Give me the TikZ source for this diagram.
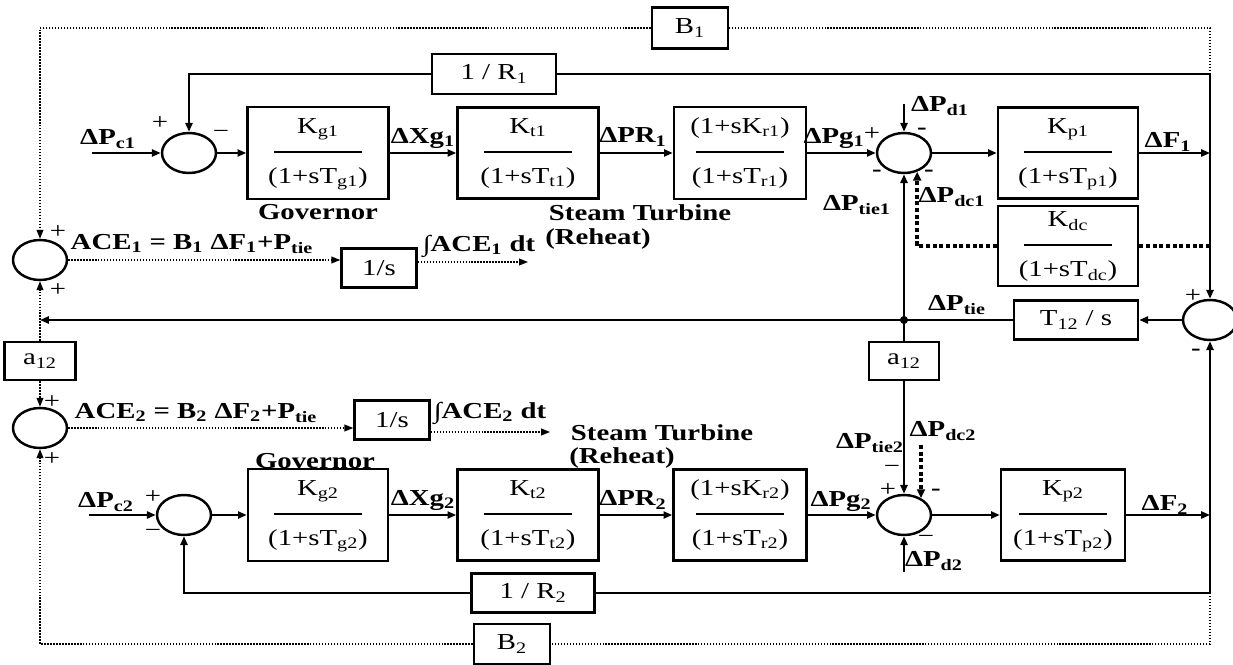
\documentclass[tikz,border=0pt]{standalone}
\usepackage{fontspec}
\setmainfont{Liberation Serif}[FakeStretch=1.26]
\usetikzlibrary{arrows.meta, shapes.geometric}
\newcommand{\blkfrac}[2]{\begin{tabular}{@{}c@{}}#1\\[-1pt]\rule[3pt]{1.76cm}{1.1pt}\\[-0.5pt]#2\end{tabular}}

\begin{document}
\begin{tikzpicture}[x=0.02cm, y=-0.02cm, font=\fontsize{13}{15}\selectfont,
    blockbox/.style={draw, line width=1.4pt, inner sep=0pt},
    sumnode/.style={draw, ellipse, line width=1.4pt, minimum width=1.08cm, minimum height=0.8cm, inner sep=0pt},
    sig/.style={line width=1.2pt},
    sigarrow/.style={sig, -{Triangle[length=5pt,width=4pt]}},
    dotline/.style={line width=0.8pt, dash pattern=on 0.8pt off 0.9pt},
    dotarrow/.style={dotline, -{Triangle[length=5pt,width=3.8pt]}},
    dcline/.style={line width=2.3pt, dash pattern=on 2.3pt off 1.5pt},
    dcarrow/.style={dcline, -{Triangle[length=5pt,width=4.5pt]}},
    lbl/.style={font=\fontsize{13}{15}\selectfont\bfseries, inner sep=0pt},
    sgn/.style={font=\fontsize{13}{13}\selectfont, inner sep=0pt}]
  \useasboundingbox (0,0) rectangle (1233,665);

  % area 1
  \node[sumnode] (sum1) at (189,153) {};
  \node[blockbox, minimum width=2.82cm, minimum height=1.84cm] (gov1) at (318,153) {\blkfrac{K\textsubscript{g1}}{(1+sT\textsubscript{g1})}};
  \node[blockbox, minimum width=2.82cm, minimum height=1.82cm] (turb1) at (528,153) {\blkfrac{K\textsubscript{t1}}{(1+sT\textsubscript{t1})}};
  \node[blockbox, minimum width=2.64cm, minimum height=1.84cm] (reh1) at (740,153) {\blkfrac{(1+sK\textsubscript{r1})}{(1+sT\textsubscript{r1})}};
  \node[sumnode] (sum2) at (904,153) {};
  \node[blockbox, minimum width=2.8cm, minimum height=1.82cm] (kp1) at (1068,153) {\blkfrac{K\textsubscript{p1}}{(1+sT\textsubscript{p1})}};
  \node[blockbox, minimum width=2.8cm, minimum height=1.6cm] (kdc) at (1068,246) {\blkfrac{K\textsubscript{dc}}{(1+sT\textsubscript{dc})}};
  \node[blockbox, minimum width=2.48cm, minimum height=0.8cm] (r1) at (494,74) {1 / R\textsubscript{1}};
  \node[blockbox, minimum width=1.52cm, minimum height=0.82cm] (b1) at (690,28) {B\textsubscript{1}};

  % tie-line
  \node[sumnode] (sum3) at (1210,320) {};
  \node[blockbox, minimum width=2.48cm, minimum height=0.78cm] (t12) at (1076,320) {T\textsubscript{12} / s};
  \node[blockbox, minimum width=1.4cm, minimum height=0.76cm] (a12c) at (904,361) {a\textsubscript{12}};

  % ACE
  \node[sumnode] (ace1) at (40,260) {};
  \node[blockbox, minimum width=1.42cm, minimum height=0.76cm] (a12l) at (40,361) {a\textsubscript{12}};
  \node[sumnode] (ace2) at (40,428) {};
  \node[blockbox, minimum width=1.5cm, minimum height=0.78cm] (integ1) at (379,268) {1/s};
  \node[blockbox, minimum width=1.5cm, minimum height=0.78cm] (integ2) at (392,420) {1/s};

  % area 2
  \node[sumnode] (sum5) at (184,515) {};
  \node[blockbox, minimum width=2.8cm, minimum height=1.84cm] (gov2) at (318,515) {\blkfrac{K\textsubscript{g2}}{(1+sT\textsubscript{g2})}};
  \node[blockbox, minimum width=2.82cm, minimum height=1.82cm] (turb2) at (528,515) {\blkfrac{K\textsubscript{t2}}{(1+sT\textsubscript{t2})}};
  \node[blockbox, minimum width=2.66cm, minimum height=1.82cm] (reh2) at (740,515) {\blkfrac{(1+sK\textsubscript{r2})}{(1+sT\textsubscript{r2})}};
  \node[sumnode] (sum6) at (904,515) {};
  \node[blockbox, minimum width=2.48cm, minimum height=1.82cm] (kp2) at (1063,515) {\blkfrac{K\textsubscript{p2}}{(1+sT\textsubscript{p2})}};
  \node[blockbox, minimum width=2.46cm, minimum height=0.78cm] (r2) at (533,593) {1 / R\textsubscript{2}};
  \node[blockbox, minimum width=1.52cm, minimum height=0.8cm] (b2) at (512,644) {B\textsubscript{2}};

  \coordinate (rtop) at (1210,74);
  \coordinate (rbot) at (1210,593);
  \coordinate (pc1) at (92,153);
  \coordinate (pc2) at (89,515);
  \coordinate (f1) at (1210,153);
  \coordinate (f2) at (1210,515);
  \coordinate (pd1) at (904,104);
  \coordinate (pd2) at (904,572);
  \coordinate (jn) at (904,320);
  \coordinate (lt) at (40,320);
  \coordinate (dc2top) at (921,445);
  \coordinate (int1end) at (528,262);
  \coordinate (int2end) at (550,432);

  % bias loops
  \draw[dotline] (rtop) |- (b1.east);
  \draw[dotarrow] (b1.west) -| (ace1.north);
  \draw[dotline] (rbot) |- (b2.east);
  \draw[dotarrow] (b2.west) -| (ace2.south);

  % droop loops
  \draw[sig] (rtop) -- (r1.east);
  \draw[sigarrow] (r1.west) -| (sum1.north);
  \draw[sig] (rbot) -- (r2.east);
  \draw[sigarrow] (r2.west) -| (sum5.south);
  \draw[sigarrow] (rtop) -- (sum3.north);
  \draw[sigarrow] (rbot) -- (sum3.south);

  % forward paths
  \draw[sigarrow] (pc1) -- (sum1.west);
  \draw[sigarrow] (sum1) -- (gov1);
  \draw[sigarrow] (gov1) -- (turb1);
  \draw[sigarrow] (turb1) -- (reh1);
  \draw[sigarrow] (reh1) -- (sum2);
  \draw[sigarrow] (sum2) -- (kp1);
  \draw[sigarrow] (kp1) -- (f1);
  \draw[sigarrow] (pd1) -- (sum2.north);
  \draw[sigarrow] (pc2) -- (sum5.west);
  \draw[sigarrow] (sum5) -- (gov2);
  \draw[sigarrow] (gov2) -- (turb2);
  \draw[sigarrow] (turb2) -- (reh2);
  \draw[sigarrow] (reh2) -- (sum6);
  \draw[sigarrow] (sum6) -- (kp2);
  \draw[sigarrow] (kp2) -- (f2);
  \draw[sigarrow] (pd2) -- (sum6.south);

  % tie-line power
  \draw[sigarrow] (sum3) -- (t12);
  \draw[sig] (t12) -- (jn);
  \draw[sigarrow] (jn) -- (lt);
  \draw[sigarrow] (jn) -- (sum2.south);
  \draw[sig] (jn) -- (a12c);
  \draw[sigarrow] (a12c) -- (sum6);
  \fill (jn) circle (2.3pt);

  % dc link
  \draw[dcline] (kdc.east) -- (kdc.east -| rtop);
  \draw[dcarrow] (kdc.west) -| (sum2.-55);
  \draw[dcarrow] (dc2top) -- (dc2top |- sum6.45);

  % area control error
  \draw[dotarrow] (a12l) -- (ace1);
  \draw[dotarrow] (a12l) -- (ace2);
  \draw[dotarrow] (ace1.east) -- (ace1.east -| integ1.west);
  \draw[dotarrow] (integ1.east |- int1end) -- (int1end);
  \draw[dotarrow] (ace2.east) -- (ace2.east -| integ2.west);
  \draw[dotarrow] (integ2.east |- int2end) -- (int2end);

  % labels
  \node[lbl] (lpc1) at (108,139) {ΔP\textsubscript{c1}};
  \node[sgn] (s1a) at (160,123) {+};
  \node[sgn] (s1b) at (221,134) {−};
  \node[lbl] (lxg1) at (423,138) {ΔXg\textsubscript{1}};
  \node[lbl] (lpr1) at (633,137) {ΔPR\textsubscript{1}};
  \node[lbl] (lpg1) at (834,138) {ΔPg\textsubscript{1}};
  \node[sgn] (s2a) at (872,134) {+};
  \node[lbl] (lpd1) at (940,106) {ΔP\textsubscript{d1}};
  \node[sgn] (s2b) at (922,131) {\textbf{-}};
  \node[sgn] (s2c) at (877,173) {\textbf{-}};
  \node[sgn] (s2d) at (929,173) {\textbf{-}};
  \node[lbl] (lf1) at (1168,142) {ΔF\textsubscript{1}};
  \node[lbl] (lgov1) at (318,212) {Governor};
  \node[lbl] (lst1) at (640,213) {Steam Turbine};
  \node[lbl] (lrh1) at (598,239) {(Reheat)};
  \node[lbl] (ltie1) at (857,205) {ΔP\textsubscript{tie1}};
  \node[lbl] (ldc1) at (952,197) {ΔP\textsubscript{dc1}};
  \node[lbl] (ltie) at (957,305) {ΔP\textsubscript{tie}};
  \node[sgn] (s3a) at (1193,296) {+};
  \node[sgn] (s3b) at (1196,352) {\textbf{-}};
  \node[lbl] (lace1) at (192,244) {ACE\textsubscript{1} = B\textsubscript{1} ΔF\textsubscript{1}+P\textsubscript{tie}};
  \node[lbl] (lint1) at (479,246) {∫ACE\textsubscript{1} dt};
  \node[sgn] (s4a) at (58,232) {+};
  \node[sgn] (s4b) at (58,290) {+};
  \node[sgn] (s5a) at (52,402) {+};
  \node[sgn] (s5b) at (52,459) {+};
  \node[lbl] (lace2) at (196,413) {ACE\textsubscript{2} = B\textsubscript{2} ΔF\textsubscript{2}+P\textsubscript{tie}};
  \node[lbl] (lint2) at (490,413) {∫ACE\textsubscript{2} dt};
  \node[lbl] (lst2) at (662,433) {Steam Turbine};
  \node[lbl] (lrh2) at (622,458) {(Reheat)};
  \node[lbl] (lgov2) at (315,461) {Governor};
  \node[lbl] (lpc2) at (106,502) {ΔP\textsubscript{c2}};
  \node[sgn] (s6a) at (153,497) {+};
  \node[sgn] (s6b) at (153,533) {−};
  \node[lbl] (lxg2) at (423,500) {ΔXg\textsubscript{2}};
  \node[lbl] (lpr2) at (633,500) {ΔPR\textsubscript{2}};
  \node[lbl] (lpg2) at (841,501) {ΔPg\textsubscript{2}};
  \node[lbl] (ltie2) at (870,443) {ΔP\textsubscript{tie2}};
  \node[sgn] (s7a) at (892,469) {−};
  \node[sgn] (s7b) at (888,490) {+};
  \node[lbl] (ldc2) at (943,431) {ΔP\textsubscript{dc2}};
  \node[sgn] (s7c) at (936,492) {\textbf{-}};
  \node[lbl] (lpd2) at (934,561) {ΔP\textsubscript{d2}};
  \node[sgn] (s7d) at (926,539) {−};
  \node[lbl] (lf2) at (1165,505) {ΔF\textsubscript{2}};
\end{tikzpicture}
\end{document}
